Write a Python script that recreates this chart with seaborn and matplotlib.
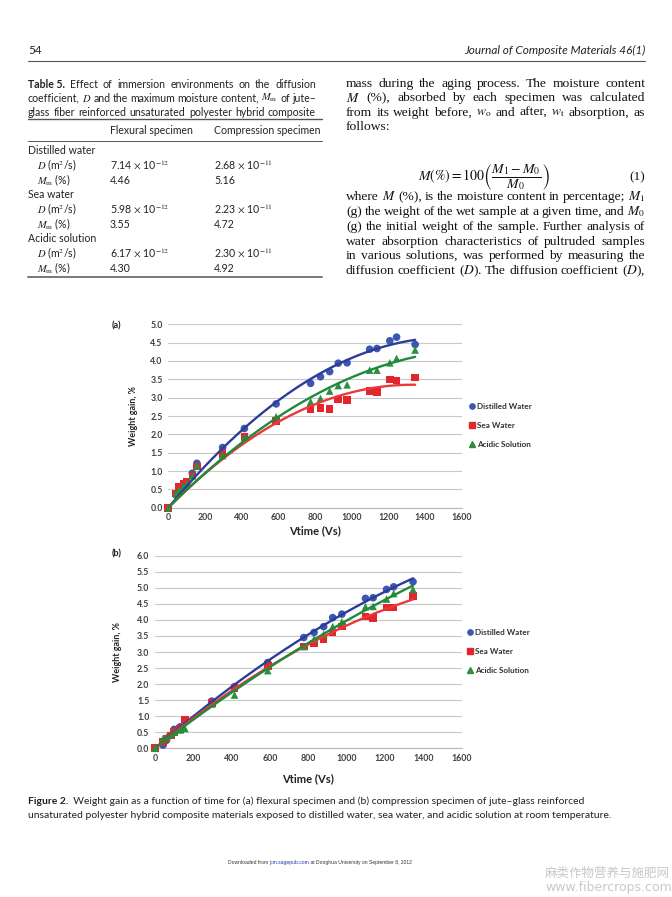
import numpy as np
import pandas as pd
import matplotlib
matplotlib.use("Agg")
import matplotlib.pyplot as plt
import seaborn as sns
from matplotlib.lines import Line2D

# ---------------- data ----------------
sqrt_time = [0, 42, 60, 82, 100, 131, 156, 296, 415, 588, 776, 830, 880, 927, 975, 1098, 1138, 1208, 1245, 1346]

flex_distilled = [0, 0.35, 0.45, 0.55, 0.65, 0.94, 1.21, 1.64, 2.16, 2.83, 3.39, 3.57, 3.71, 3.94, 3.95, 4.32, 4.34, 4.55, 4.65, 4.45]
flex_sea = [0, 0.39, 0.57, 0.64, 0.71, 0.88, 1.12, 1.46, 1.94, 2.36, 2.69, 2.71, 2.69, 2.95, 2.93, 3.18, 3.15, 3.49, 3.47, 3.55]
flex_acidic = [0, 0.39, 0.48, 0.57, 0.66, 0.87, 1.14, 1.42, 1.91, 2.48, 2.89, 2.98, 3.18, 3.33, 3.35, 3.75, 3.75, 3.95, 4.07, 4.30]

comp_distilled = [0, 0.10, 0.25, 0.40, 0.59, 0.67, 0.85, 1.47, 1.92, 2.67, 3.45, 3.61, 3.79, 4.07, 4.18, 4.67, 4.69, 4.95, 5.03, 5.19]
comp_sea = [0, 0.20, 0.30, 0.40, 0.50, 0.60, 0.90, 1.42, 1.87, 2.56, 3.17, 3.27, 3.40, 3.61, 3.79, 4.10, 4.05, 4.39, 4.39, 4.75]
comp_acidic = [0, 0.30, 0.35, 0.42, 0.50, 0.57, 0.62, 1.38, 1.66, 2.42, 3.17, 3.40, 3.55, 3.79, 3.94, 4.41, 4.42, 4.65, 4.82, 4.95]

series_names = ["Distilled Water", "Sea Water", "Acidic Solution"]
x_ticks = [0, 200, 400, 600, 800, 1000, 1200, 1400, 1600]
y_ticks_a = [0.0, 0.5, 1.0, 1.5, 2.0, 2.5, 3.0, 3.5, 4.0, 4.5, 5.0]
y_ticks_b = [0.0, 0.5, 1.0, 1.5, 2.0, 2.5, 3.0, 3.5, 4.0, 4.5, 5.0, 5.5, 6.0]

# table values
table_groups = ["Distilled water", "Sea water", "Acidic solution"]
table_D_flex = ["7.14", "5.98", "6.17"]
table_D_comp = ["2.68", "2.23", "2.30"]
table_Mm_flex = ["4.46", "3.55", "4.30"]
table_Mm_comp = ["5.16", "4.72", "4.92"]

marker_colors = ["#3B57B0", "#E3262B", "#2A9040"]
line_colors = ["#2B3D99", "#E8393B", "#1F8A3A"]
markers = ["o", "s", "^"]

W, H = 672, 897
sns.set_theme(style="white")
plt.rcParams["mathtext.fontset"] = "stix"

fig = plt.figure(figsize=(W / 100, H / 100), dpi=100)
fig.patch.set_facecolor("white")


def fx(x):
    return x / W


def fy(y):
    return 1 - y / H


def txt(x, y, s, **kw):
    kw.setdefault("va", "center")
    return fig.text(fx(x), fy(y), s, **kw)


def hline(x0, x1, y, lw=0.8, color="#555555"):
    fig.add_artist(Line2D([fx(x0), fx(x1)], [fy(y), fy(y)], lw=lw, color=color,
                          transform=fig.transFigure))


renderer = fig.canvas.get_renderer()


def segs(x, y, parts, **common):
    for s, kw in parts:
        k = dict(common)
        k.update(kw)
        t = txt(x, y, s, **k)
        bb = t.get_window_extent(renderer)
        x += bb.width
    return x


def justify(x0, x1, y, line, **kw):
    words = line.split(" ")
    arts = [txt(x0, y, w_, **kw) for w_ in words]
    widths = [a.get_window_extent(renderer).width for a in arts]
    gap = (x1 - x0 - sum(widths)) / max(len(words) - 1, 1)
    x = x0
    for a, wd in zip(arts, widths):
        a.set_x(fx(x))
        x += wd + gap


SANS = "Lato"
SERIF = "Liberation Serif"
L = 28
TAB_R = 322
COL_R0, COL_R1 = 346, 645

# ---------------- header ----------------
txt(L, 50, "54", family=SANS, fontsize=8.5, color="#222222")
txt(COL_R1, 50, "Journal of Composite Materials 46(1)", family=SANS, style="italic",
    fontsize=8.5, ha="right", color="#222222")
hline(L, COL_R1, 61, lw=0.8)

# ---------------- table ----------------
tfs = 7.6
tk = dict(family=SANS, fontsize=tfs, color="#222222")
xs = segs(L, 84, [("Table 5.", dict(weight="bold"))], **tk)
justify(xs + 5, TAB_R - 6, 84, "Effect of immersion environments on the diffusion", **tk)
justify(L, TAB_R - 6, 98,
        r"coefficient, $D$ and the maximum moisture content, $M_\mathrm{m}$ of jute–", **tk)
justify(L, TAB_R - 6, 112, "glass fiber reinforced unsaturated polyester hybrid composite", **tk)
hline(L, TAB_R, 119, lw=1.0)
C1, C2 = 110, 214
txt(C1, 130, "Flexural specimen", **tk)
txt(C2, 130, "Compression specimen", **tk)
hline(L, TAB_R, 141, lw=0.7)
row_y = 151
for g, df_, dc_, mf_, mc_ in zip(table_groups, table_D_flex, table_D_comp,
                                  table_Mm_flex, table_Mm_comp):
    txt(L, row_y, g, **tk)
    txt(L + 9, row_y + 14.5, r"$D$ (m$^2$/s)", **tk)
    txt(C1, row_y + 14.5, df_ + r" $\times$ 10$^{-12}$", **tk)
    txt(C2, row_y + 14.5, dc_ + r" $\times$ 10$^{-11}$", **tk)
    txt(L + 9, row_y + 29, r"$M_\mathrm{m}$ (%)", **tk)
    txt(C1, row_y + 29, mf_, **tk)
    txt(C2, row_y + 29, mc_, **tk)
    row_y += 44
hline(L, TAB_R, 277, lw=1.4, color="#777777")

# ---------------- right column text ----------------
bfs = 9.7
body = [
    (84, "mass during the aging process. The moisture content", True),
    (98, r"$M$ (%), absorbed by each specimen was calculated", True),
    (113, r"from its weight before, $w_\mathrm{o}$ and after, $w_\mathrm{t}$ absorption, as", True),
    (127, "follows:", False),
    (197, r"where $M$ (%), is the moisture content in percentage; $M_1$", True),
    (212, r"(g) the weight of the wet sample at a given time, and $M_0$", True),
    (227, "(g) the initial weight of the sample. Further analysis of", True),
    (242, "water absorption characteristics of pultruded samples", True),
    (256, "in various solutions, was performed by measuring the", True),
    (271, r"diffusion coefficient ($D$). The diffusion coefficient ($D$),", True),
]
bk = dict(family=SERIF, fontsize=bfs, color="#111111")
for yy, s, just in body:
    if just:
        justify(COL_R0, COL_R1, yy, s, **bk)
    else:
        txt(COL_R0, yy, s, **bk)
txt(484, 177, r"$M(\%) = 100\left(\dfrac{M_1 - M_0}{M_0}\right)$", fontsize=10,
    ha="center", color="#111111")
txt(COL_R1, 177, "(1)", ha="right", **bk)


# ---------------- charts ----------------
def make_df(vals):
    frames = []
    for name, v in zip(series_names, vals):
        frames.append(pd.DataFrame({"t": sqrt_time, "w": v, "env": name}))
    return pd.concat(frames, ignore_index=True)


def trend(t, w):
    # second-order trendline through the origin, fitted to the series
    t = np.asarray(t, float)
    w = np.asarray(w, float)
    X = np.column_stack([t, t ** 2])
    coef, *_ = np.linalg.lstsq(X, w, rcond=None)
    grid = np.linspace(0, t.max(), 200)
    return grid, coef[0] * grid + coef[1] * grid ** 2


def rect_x_center(rect):
    return (rect[0] + rect[2] / 2) * W


def rect_y_center(rect):
    return (1 - (rect[1] + rect[3] / 2)) * H


def rect_from_px(x0, x1, ytop, ybot):
    return [fx(x0), fy(ybot), (x1 - x0) / W, (ybot - ytop) / H]


def draw_panel(rect, vals, yticks, ymax, tag, tag_xy, leg_xy, ylab_x, xlab_y):
    ax = fig.add_axes(rect)
    df = make_df(vals)
    sns.scatterplot(data=df, x="t", y="w", hue="env", style="env",
                    palette=marker_colors, markers=markers, s=30, linewidth=0,
                    edgecolor="none", ax=ax, legend=False, zorder=3, clip_on=False)
    for name, v, c in zip(series_names, vals, line_colors):
        gx, gy = trend(sqrt_time, v)
        sns.lineplot(x=gx, y=gy, color=c, lw=1.7, ax=ax, zorder=4, estimator=None,
                     sort=False)
    ax.set_xlim(0, 1600)
    ax.set_ylim(0, ymax)
    ax.set_xticks(x_ticks)
    ax.set_yticks(yticks)
    ax.set_yticklabels([f"{v:.1f}" for v in yticks])
    ax.set_xticklabels([str(v) for v in x_ticks])
    for lab in ax.get_xticklabels() + ax.get_yticklabels():
        lab.set_fontfamily(SANS)
        lab.set_fontweight("bold")
        lab.set_fontsize(6.3)
        lab.set_color("#404040")
    ax.tick_params(axis="both", length=0, pad=4)
    ax.grid(axis="y", color="#C8C8C8", lw=0.8)
    ax.grid(axis="x", visible=False)
    for sp in ["top", "right", "left"]:
        ax.spines[sp].set_visible(False)
    ax.spines["bottom"].set_color("#B8B8B8")
    ax.spines["bottom"].set_linewidth(0.8)
    ax.set_xlabel("")
    ax.set_ylabel("")
    ax.set_facecolor("white")
    ax.set_axisbelow(True)
    txt(ylab_x, rect_y_center(rect), "Weight gain, %", family=SANS, weight="bold",
        fontsize=6.4, rotation=90, ha="center", color="#222222")
    txt(rect_x_center(rect), xlab_y, "Vtime (Vs)", family=SANS, weight="bold",
        fontsize=8.0, ha="center", color="#222222")
    txt(tag_xy[0], tag_xy[1], tag, family=SANS, weight="bold", fontsize=6.5,
        color="#222222")
    handles = [Line2D([], [], ls="", marker=m, color=c, markersize=3.8)
               for m, c in zip(markers, marker_colors)]
    leg = fig.legend(handles, series_names, loc="upper left",
                     bbox_to_anchor=(fx(leg_xy[0]), fy(leg_xy[1])),
                     frameon=False, handlelength=0.6, handletextpad=0.3,
                     labelspacing=1.45, borderpad=0, borderaxespad=0,
                     prop=dict(family=SANS, weight="bold", size=5.9))
    for t in leg.get_texts():
        t.set_color("#333333")
    return ax


rect_a = rect_from_px(168.3, 461.7, 324.3, 507.7)
rect_b = rect_from_px(155.0, 461.7, 555.7, 748.3)

draw_panel(rect_a, [flex_distilled, flex_sea, flex_acidic], y_ticks_a, 5.0, "(a)",
           (112, 326), (470, 403), 133, 531)
draw_panel(rect_b, [comp_distilled, comp_sea, comp_acidic], y_ticks_b, 6.0, "(b)",
           (112, 554), (468, 629), 118, 779)

# ---------------- caption & footer ----------------
cfs = 7.5
ck = dict(family=SANS, fontsize=cfs, color="#222222")
segs(L, 801, [("Figure 2.", dict(weight="bold")),
              ("  Weight gain as a function of time for (a) flexural specimen and (b) compression specimen of jute–glass reinforced", {})],
     **ck)
txt(L, 815, "unsaturated polyester hybrid composite materials exposed to distilled water, sea water, and acidic solution at room temperature.",
    **ck)

segs(228, 862, [("Downloaded from ", {}), ("jcm.sagepub.com", dict(color="#2233AA")),
                (" at Donghua University on September 8, 2012", {})],
     family="Liberation Sans", fontsize=3.6, color="#333333")

txt(545, 873, "麻类作物营养与施肥网", family=["Noto Sans CJK SC", "DejaVu Sans"],
    fontsize=9, color="#C8C8C8")
txt(545, 887, "www.fibercrops.com", family="DejaVu Sans", fontsize=9, color="#C8C8C8")

fig.savefig("out.png", dpi=100, facecolor="white")
